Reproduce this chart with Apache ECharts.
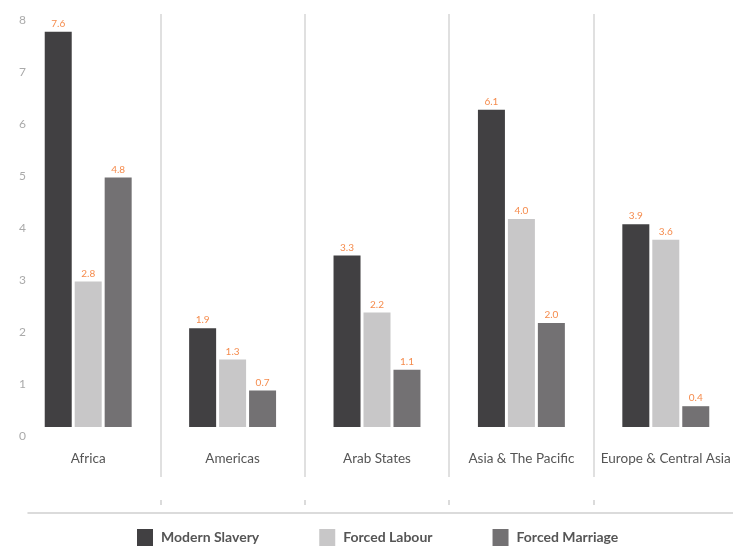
<!DOCTYPE html>
<html>
<head>
<meta charset="utf-8">
<script src="https://cdn.jsdelivr.net/npm/echarts@6/dist/echarts.min.js"></script>
<style>html,body{margin:0;padding:0;background:#fff}#c{width:733px;height:546px}</style>
</head>
<body>
<div id="c"></div>
<script>
const categories = ['Africa', 'Americas', 'Arab States', 'Asia & The Pacific', 'Europe & Central Asia'];
const modernSlavery = [7.6, 1.9, 3.3, 6.1, 3.9];
const forcedLabour = [2.8, 1.3, 2.2, 4.0, 3.6];
const forcedMarriage = [4.8, 0.7, 1.1, 2.0, 0.4];
const seriesNames = ['Modern Slavery', 'Forced Labour', 'Forced Marriage'];
const yMin = 0, yMax = 8, yStep = 1;

const FONT = 'Lato, "Open Sans", sans-serif';
const colors = ['#414042', '#c8c7c8', '#737173'];
const skipFirst = (i) => i > 0;

const chart = echarts.init(document.getElementById('c'));
const labelCfg = { show: true, position: 'top', distance: 3, color: '#f58b4c', fontSize: 10, fontFamily: FONT,
  formatter: (p) => p.value.toFixed(1) };

chart.setOption({
  animation: false,
  textStyle: { fontFamily: FONT },
  color: colors,
  grid: [
    { left: 16, width: 722, top: 11, bottom: 119, outerBoundsMode: 'none', containLabel: false },
    { left: 16, width: 722, top: 14, bottom: 69, outerBoundsMode: 'none', containLabel: false },
    { left: 16, width: 722, top: 500, height: 5, outerBoundsMode: 'none', containLabel: false },
    { left: 28, right: 0, top: 512, height: 1, outerBoundsMode: 'none', containLabel: false }
  ],
  xAxis: [
    { gridIndex: 0, type: 'category', data: categories, axisLine: { show: false }, axisTick: { show: false },
      axisLabel: { margin: 25, color: '#555', fontSize: 13.5, fontFamily: FONT, interval: 0 }, splitLine: { show: false } },
    { gridIndex: 1, type: 'category', data: categories, axisLine: { show: false }, axisTick: { show: false },
      axisLabel: { show: false }, splitLine: { show: true, interval: skipFirst, lineStyle: { color: '#d6d6d6', width: 1.5 } } },
    { gridIndex: 2, type: 'category', data: categories, axisLine: { show: false },
      axisTick: { show: true, inside: true, length: 5, interval: skipFirst, lineStyle: { color: '#cfcfcf', width: 1.5 } },
      axisLabel: { show: false }, splitLine: { show: false } },
    { gridIndex: 3, type: 'category', data: [''], position: 'bottom', axisLine: { show: true, lineStyle: { color: '#d0d0d0', width: 1.5 } },
      axisTick: { show: false }, axisLabel: { show: false }, splitLine: { show: false } }
  ],
  yAxis: [
    { gridIndex: 0, type: 'value', min: yMin, max: yMax, interval: yStep, axisLine: { show: false }, axisTick: { show: false },
      splitLine: { show: false },
      axisLabel: { inside: true, margin: 3, color: '#aaaaaa', fontSize: 12, fontFamily: FONT, verticalAlign: 'top', padding: [3, 0, 0, 0] } },
    { gridIndex: 1, type: 'value', min: 0, max: 1, show: false },
    { gridIndex: 2, type: 'value', min: 0, max: 1, show: false },
    { gridIndex: 3, type: 'value', min: 0, max: 1, show: false }
  ],
  legend: {
    top: 529, left: 137, padding: 0, itemWidth: 16, itemHeight: 17, itemGap: 60, icon: 'rect',
    textStyle: { color: '#555', fontSize: 14, fontWeight: 'bold', fontFamily: FONT, padding: [0, 0, 0, 3] },
    data: seriesNames
  },
  series: [
    { name: seriesNames[0], type: 'bar', xAxisIndex: 0, yAxisIndex: 0, data: modernSlavery, barWidth: 27, barGap: '11%', label: labelCfg },
    { name: seriesNames[1], type: 'bar', xAxisIndex: 0, yAxisIndex: 0, data: forcedLabour, barWidth: 27, barGap: '11%', label: labelCfg },
    { name: seriesNames[2], type: 'bar', xAxisIndex: 0, yAxisIndex: 0, data: forcedMarriage, barWidth: 27, barGap: '11%', label: labelCfg }
  ]
});
</script>
</body>
</html>
